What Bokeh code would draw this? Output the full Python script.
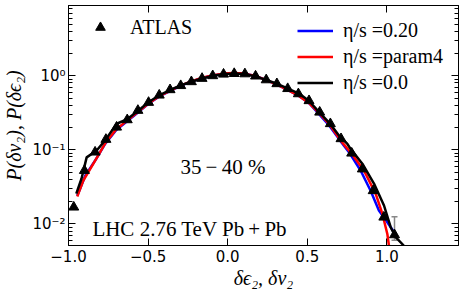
from bokeh.plotting import figure
from bokeh.models import (Range1d, FixedTicker, LinearAxis, LogAxis, Legend, LegendItem,
                          Label, CustomJSTickFormatter, Whisker, ColumnDataSource, TeeHead)
from bokeh.embed import file_html
from bokeh.resources import INLINE

# ---- data ----
atlas_x = [-0.967, -0.900, -0.833, -0.765, -0.698, -0.631, -0.564, -0.497, -0.430, -0.362,
           -0.295, -0.228, -0.161, -0.094, -0.026, 0.041, 0.108, 0.175, 0.242, 0.309,
           0.377, 0.444, 0.511, 0.578, 0.645, 0.712, 0.779, 0.846, 0.914, 0.981, 1.048]
atlas_y = [0.0168, 0.0525, 0.093, 0.138, 0.202, 0.254, 0.34, 0.436, 0.547, 0.647,
           0.735, 0.83, 0.92, 1.0, 1.05, 1.07, 1.06, 0.99, 0.88, 0.78,
           0.67, 0.57, 0.46, 0.322, 0.225, 0.141, 0.09, 0.055, 0.028, 0.0123, 0.0071]
err_x = [1.048]
err_lo = [0.0060]
err_hi = [0.0125]

blue_x = [-0.945, -0.894, -0.825, -0.77, -0.70, -0.63, -0.56, -0.50, -0.43, -0.36, -0.30,
          -0.23, -0.16, -0.09, -0.03, 0.04, 0.10, 0.17, 0.24, 0.31, 0.38, 0.45, 0.51, 0.57,
          0.64, 0.71, 0.762, 0.835, 0.898, 0.95, 1.003, 1.045, 1.055]
blue_y = [0.024, 0.045, 0.076, 0.12, 0.185, 0.245, 0.325, 0.415, 0.525, 0.625, 0.725,
          0.835, 0.935, 1.01, 1.06, 1.08, 1.07, 1.0, 0.88, 0.76, 0.64, 0.53, 0.43, 0.31,
          0.21, 0.13, 0.093, 0.0525, 0.028, 0.0151, 0.0105, 0.0077, 0.0068]

red_x = [-0.945, -0.907, -0.813, -0.767, -0.70, -0.63, -0.56, -0.50, -0.43, -0.36, -0.30,
         -0.23, -0.16, -0.09, -0.03, 0.04, 0.10, 0.17, 0.24, 0.31, 0.38, 0.45, 0.51, 0.57,
         0.64, 0.709, 0.78, 0.856, 0.93, 0.972, 1.003, 1.013]
red_y = [0.0234, 0.0385, 0.084, 0.125, 0.19, 0.25, 0.33, 0.42, 0.53, 0.63, 0.73,
         0.84, 0.94, 1.02, 1.07, 1.09, 1.07, 1.0, 0.88, 0.76, 0.64, 0.53, 0.43, 0.32,
         0.22, 0.134, 0.088, 0.0525, 0.0254, 0.0136, 0.0073, 0.0051]

black_x = [-0.951, -0.918, -0.886, -0.823, -0.77, -0.697, -0.63, -0.56, -0.50, -0.43, -0.36,
           -0.30, -0.23, -0.16, -0.09, -0.03, 0.04, 0.10, 0.17, 0.24, 0.31, 0.38, 0.45, 0.51,
           0.57, 0.64, 0.70, 0.752, 0.772, 0.846, 0.919, 0.982, 1.024, 1.055, 1.106]
black_y = [0.0256, 0.041, 0.079, 0.098, 0.134, 0.225, 0.26, 0.34, 0.435, 0.545, 0.645,
           0.735, 0.83, 0.92, 1.0, 1.05, 1.07, 1.06, 0.99, 0.88, 0.78, 0.67, 0.57, 0.46,
           0.33, 0.23, 0.155, 0.12, 0.103, 0.065, 0.035, 0.0177, 0.009, 0.0066, 0.0051]

x_ticks = [-1.0, -0.5, 0.0, 0.5, 1.0]
y_ticks = [0.01, 0.1, 1.0]
y_minor = [k * 10.0 ** e for e in (-3, -2, -1, 0) for k in range(2, 10)]

series_labels = ["η/s =0.20", "η/s =param4", "η/s =0.0"]
series_colors = ["#0000ff", "#ff0000", "#000000"]

SERIF = "Liberation Serif"
SANS = "DejaVu Sans"

p = figure(width=463, height=298, x_range=Range1d(-1.0, 1.45), y_range=Range1d(0.0051, 8.9),
           y_axis_type="log", output_backend="svg", toolbar_location=None,
           min_border_left=68, min_border_right=5, min_border_top=5, min_border_bottom=53)
p.grid.visible = False
p.outline_line_color = "black"
p.outline_line_width = 1

xfmt = CustomJSTickFormatter(code="return tick.toFixed(1).replace('-', '\u2212');")
yfmt = CustomJSTickFormatter(code="""
const e = Math.round(Math.log10(tick));
const sup = {'-':'\u207b','0':'\u2070','1':'\u00b9','2':'\u00b2','3':'\u00b3'};
return '10' + String(e).split('').map(c => sup[c]).join('');
""")
blankfmt = CustomJSTickFormatter(code="return ' ';")

def style(ax):
    ax.major_tick_in = 7
    ax.major_tick_out = 0
    ax.minor_tick_in = 4
    ax.minor_tick_out = 0
    ax.axis_line_color = "black"
    ax.major_tick_line_color = "black"
    ax.minor_tick_line_color = "black"
    ax.major_label_text_font = SANS
    ax.major_label_text_font_size = "15px"
    ax.major_label_text_color = "black"
    ax.axis_label_text_font = SERIF
    ax.axis_label_text_font_size = "20px"
    ax.axis_label_text_font_style = "italic"
    ax.axis_label_text_color = "black"

xa = p.xaxis[0]
xa.ticker = FixedTicker(ticks=x_ticks, minor_ticks=[])
xa.formatter = xfmt
style(xa)
xa.major_label_standoff = 4
xa.axis_label = "δϵ₂, δv₂"
xa.axis_label_standoff = 2

ya = p.yaxis[0]
ya.ticker = FixedTicker(ticks=y_ticks, minor_ticks=y_minor)
ya.formatter = yfmt
style(ya)
ya.major_label_standoff = 3
ya.axis_label = "P(δv₂), P(δϵ₂)"
ya.axis_label_standoff = 4

top = LinearAxis(ticker=FixedTicker(ticks=x_ticks, minor_ticks=[]), formatter=blankfmt)
style(top)
top.major_label_text_font_size = "1px"
top.major_label_standoff = 0
p.add_layout(top, "above")

right = LogAxis(ticker=FixedTicker(ticks=y_ticks, minor_ticks=y_minor), formatter=blankfmt)
style(right)
right.major_label_text_font_size = "1px"
right.major_label_standoff = 0
p.add_layout(right, "right")

rb = p.line(blue_x, blue_y, line_width=2.5, color=series_colors[0])
rr = p.line(red_x, red_y, line_width=2.5, color=series_colors[1])
rk = p.line(black_x, black_y, line_width=2.5, color=series_colors[2])

tri = p.scatter(atlas_x, atlas_y, marker="triangle", size=10, color="black")

esrc = ColumnDataSource(dict(x=err_x, lo=err_lo, hi=err_hi))
p.add_layout(Whisker(source=esrc, base="x", lower="lo", upper="hi", dimension="height",
                     line_color="#888888", line_width=1.5,
                     upper_head=TeeHead(size=6, line_color="#888888", line_width=1.5),
                     lower_head=TeeHead(size=6, line_color="#888888", line_width=1.5)))

def leg_common(lg):
    lg.border_line_color = None
    lg.background_fill_alpha = 0
    lg.label_text_font = SERIF
    lg.label_text_font_size = "20px"
    lg.label_text_color = "black"

leg1 = Legend(items=[LegendItem(label="ATLAS", renderers=[tri])], location="top_left")
leg_common(leg1)
leg1.glyph_width = 44
leg1.glyph_height = 24
leg1.label_height = 24
leg1.label_standoff = 8
leg1.padding = 0
leg1.margin = 10
leg1.spacing = 0
p.add_layout(leg1)

leg2 = Legend(items=[LegendItem(label=series_labels[0], renderers=[rb]),
                     LegendItem(label=series_labels[1], renderers=[rr]),
                     LegendItem(label=series_labels[2], renderers=[rk])],
              location="top_right")
leg_common(leg2)
leg2.glyph_width = 36
leg2.glyph_height = 25
leg2.label_height = 25
leg2.label_width = 102
leg2.label_standoff = 10
leg2.padding = 0
leg2.margin = 13
leg2.spacing = 1
p.add_layout(leg2)

p.add_layout(Label(x=-0.297, y=0.059, text="35\u2009\u2212\u200940 %", text_font=SERIF,
                   text_font_size="21px", text_baseline="middle", text_color="black"))
p.add_layout(Label(x=-0.85, y=0.0084, text="LHC 2.76 TeV Pb\u2009+\u2009Pb", text_font=SERIF,
                   text_font_size="21px", text_baseline="middle", text_color="black"))

open("out.html", "w").write(file_html(p, INLINE))
